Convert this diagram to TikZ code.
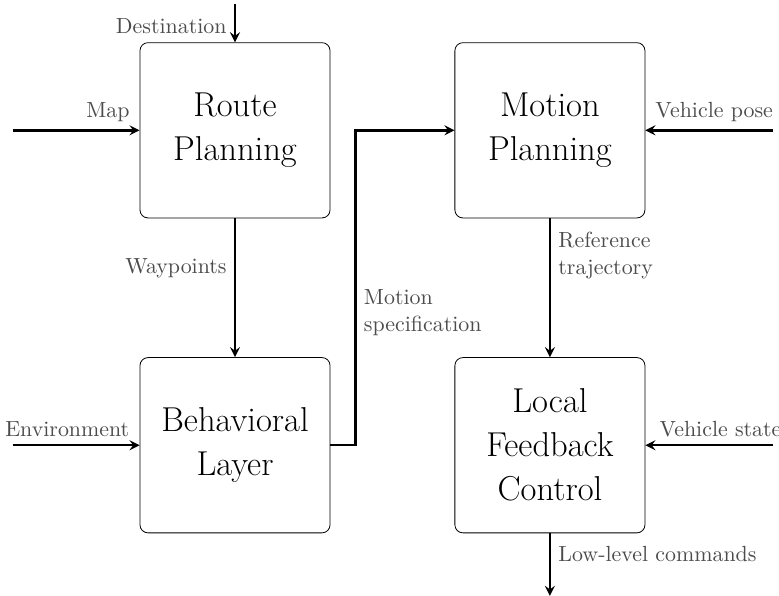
\documentclass[tikz,border=0pt,11pt]{standalone}
\usetikzlibrary{positioning}
\begin{document}
\begin{tikzpicture}[>=stealth]

    \tikzset{
      block/.style={
        draw,
        rounded corners,
        align=center,
        minimum width=3.34cm,
        minimum height=3.08cm,
        font=\LARGE,
      },
      flow/.style={
        very thick,
        ->,
      },
      tag/.style={
        text=black!70,
        align=left,
      },
    }
    \useasboundingbox (0,0) rectangle (13.69,-10.47);
	\node[block] (route) at (4.13,-2.29) {Route\\Planning};
	\node[block, right = 2.18cm of route] (motion) {Motion\\Planning};
	\node[block, below = 2.44cm of route] (behav) {Behavioral\\Layer};
	\node[block, below = 2.44cm of motion] (local) {Local\\Feedback\\Control};
	\coordinate[above = 0.67cm of route.north] (dest);
	\coordinate[left = 2.23cm of route.west] (map);
	\coordinate[right = 2.24cm of motion.east] (pose);
	\coordinate[left = 2.23cm of behav.west] (env);
	\coordinate[right = 2.24cm of local.east] (state);
	\coordinate[below = 1.1cm of local.south] (cmd);
	\draw[flow] (dest) -- node[tag, left, pos=0.58] {Destination} (route.north);
	\draw[flow] (map) -- node[tag, above, pos=0.75] {Map} (route.west);
	\draw[flow] (pose) -- node[tag, above, pos=0.46] {Vehicle pose} (motion.east);
	\draw[flow] (route) -- node[tag, left, pos=0.36] {Waypoints} (behav);
	\draw[flow] (behav.east) -- ++(0.44,0) |- node[tag, right, pos=0.21] {Motion\\specification} (motion.west);
	\draw[flow] (motion) -- node[tag, right, pos=0.27] {Reference\\trajectory} (local);
	\draw[flow] (env) -- node[tag, above, pos=0.43] {Environment} (behav.west);
	\draw[flow] (state) -- node[tag, above, pos=0.41] {Vehicle state} (local.east);
	\draw[flow] (local) -- node[tag, right, pos=0.33] {Low-level commands} (cmd);

\end{tikzpicture}
\end{document}
